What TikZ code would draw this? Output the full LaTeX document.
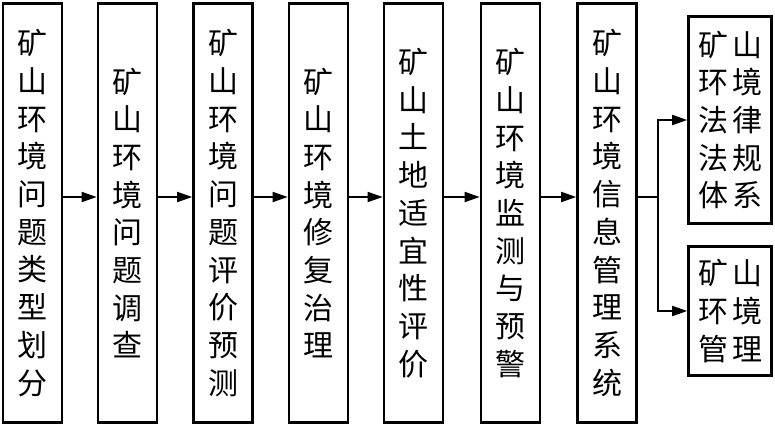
\documentclass[tikz,border=0pt]{standalone}
\usepackage{fontspec}
\newfontfamily\cjk{Noto Sans CJK SC}
\usetikzlibrary{arrows.meta}
\begin{document}
\begin{tikzpicture}[x=1pt, y=1pt,
  stage/.style={draw, line width=2.6pt, inner sep=0pt, minimum width=59pt,
    minimum height=419pt, align=center, font=\cjk\fontsize{30}{37.7}\selectfont},
  side/.style={stage, minimum width=83pt},
  arr/.style={line width=1.8pt, -{Triangle[length=15pt,width=10pt]}}]
\useasboundingbox (0,0) rectangle (775,-426);
%\draw[very thin,color=gray] (0,0) grid[step=50] (775,-426);

\node[stage] (s1) at (32.5,-213) {矿\\山\\环\\境\\问\\题\\类\\型\\划\\分};
\node[stage] (s2) at (127.5,-213) {矿\\山\\环\\境\\问\\题\\调\\查};
\node[stage] (s3) at (223,-213) {矿\\山\\环\\境\\问\\题\\评\\价\\预\\测};
\node[stage] (s4) at (318.5,-213) {矿\\山\\环\\境\\修\\复\\治\\理};
\node[stage] (s5) at (413.5,-213) {矿\\山\\土\\地\\适\\宜\\性\\评\\价};
\node[stage] (s6) at (510.5,-213) {矿\\山\\环\\境\\监\\测\\与\\预\\警};
\node[stage] (s7) at (607,-213) {矿\\山\\环\\境\\信\\息\\管\\理\\系\\统};

% right column
\node[side, minimum height=207pt] (law) at (730,-120)
  {矿\hspace{4pt}山\\环\hspace{4pt}境\\法\hspace{4pt}律\\法\hspace{4pt}规\\体\hspace{4pt}系};
\node[side, minimum height=129pt] (mgmt) at (730,-311)
  {矿\hspace{4pt}山\\环\hspace{4pt}境\\管\hspace{4pt}理};

\foreach \a/\b in {s1/s2, s2/s3, s3/s4, s4/s5, s5/s6, s6/s7}
  \draw[arr] ([yshift=16pt]\a.east) -- ([yshift=16pt]\b.west);

\draw[arr] ([yshift=16pt]s7.east) -- ++(20.5,0) |- (law.west);
\draw[arr] ([yshift=16pt]s7.east) -- ++(20.5,0) |- (mgmt.west);

\end{tikzpicture}
\end{document}
